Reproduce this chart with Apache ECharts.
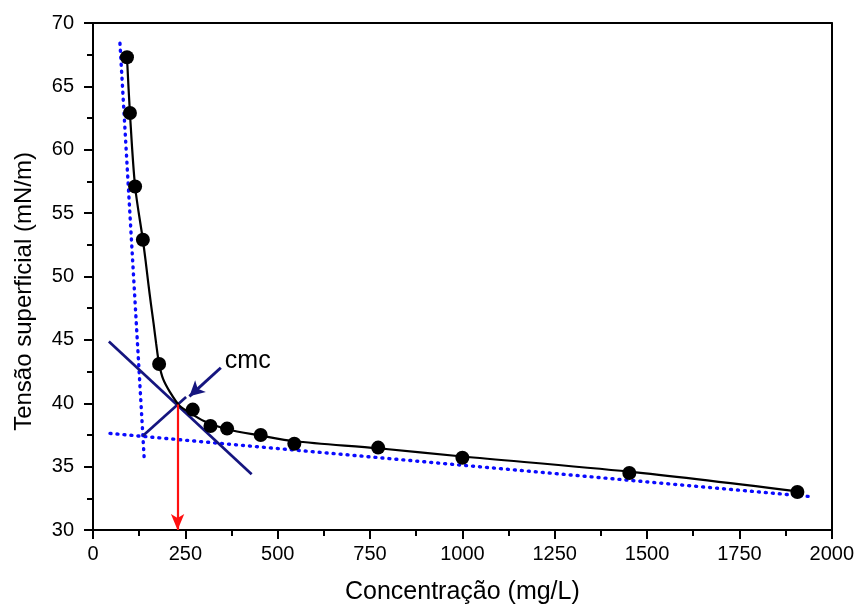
<!DOCTYPE html>
<html>
<head>
<meta charset="utf-8">
<script src="https://cdn.jsdelivr.net/npm/echarts@6/dist/echarts.min.js"></script>
<style>
  html, body { margin: 0; padding: 0; background: #ffffff; }
  #chart { width: 857px; height: 610px; }
</style>
</head>
<body>
<div id="chart"></div>
<script>
// Measured surface tension vs. surfactant concentration
const concentration = [92, 100, 114, 135, 179, 270, 318, 363, 454, 545, 772, 1000, 1452, 1907];
const tension = [67.3, 62.9, 57.1, 52.9, 43.1, 39.5, 38.2, 38.0, 37.5, 36.8, 36.5, 35.7, 34.5, 33.0];

// Fitted curve through the measurements
const fitX = [92, 100, 114, 135, 143, 150, 157, 164, 171, 179, 190, 208, 233, 262, 300, 363, 454, 545, 772, 1000, 1452, 1907];
const fitY = [67.3, 62.9, 57.1, 52.9, 51.1, 49.4, 47.8, 46.3, 44.7, 43.1, 41.9, 40.9, 39.85, 39.25, 38.6, 37.95, 37.45, 37.0, 36.45, 35.8, 34.6, 33.05];

// Linear trends of the two regimes (dotted)
const steepTrendX = [73, 139];
const steepTrendY = [68.4, 35.45];
const flatTrendX = [46, 1936];
const flatTrendY = [37.62, 32.65];

// Construction lines meeting at the cmc
const crossAX = [43, 429.5];
const crossAY = [44.88, 34.4];
const crossBX = [134.5, 252];
const crossBY = [37.41, 40.5];

// cmc point and its annotation
const cmcValue = [229, 39.9];
const cmcAxisValue = 30;
const cmcPointerFrom = [346, 42.8];
const cmcPointerTo = [261, 40.55];
const cmcLabelAt = [357, 43.3];
const cmcLabel = 'cmc';

// Axes
const xMin = 0, xMax = 2000, xStep = 250;
const yMin = 30, yMax = 70, yStep = 5;
const xTitle = 'Concentração (mg/L)';
const yTitle = 'Tensão superficial (mN/m)';

const zip = (xs, ys) => xs.map((x, i) => [x, ys[i]]);

const FONT = "'Liberation Sans', Arial, sans-serif";
const NAVY = '#15157f';
const BLUE = '#0a0aff';
const INK = '#000000';

const chart = echarts.init(document.getElementById('chart'), null, { renderer: 'canvas' });

const axisCommon = {
  axisLine: { show: true, onZero: false, lineStyle: { color: INK, width: 2 } },
  splitLine: { show: false }
};

chart.setOption({
  animation: false,
  backgroundColor: '#ffffff',
  grid: { left: 93, right: 25, top: 23, bottom: 78, show: false },
  xAxis: [
    Object.assign({}, axisCommon, {
      type: 'value', min: xMin, max: xMax, interval: xStep, position: 'bottom',
      name: xTitle, nameLocation: 'middle', nameGap: 50,
      nameTextStyle: { fontFamily: FONT, fontSize: 25, color: INK },
      axisTick: { show: true, inside: false, length: 9, lineStyle: { color: INK, width: 2 } },
      minorTick: { show: true, splitNumber: 2, length: 6, lineStyle: { color: INK, width: 2 } },
      axisLabel: { fontFamily: FONT, fontSize: 20, color: INK, margin: 14, formatter: v => String(v) }
    }),
    Object.assign({}, axisCommon, {
      type: 'value', min: xMin, max: xMax, position: 'top',
      axisTick: { show: false }, axisLabel: { show: false }
    })
  ],
  yAxis: [
    Object.assign({}, axisCommon, {
      type: 'value', min: yMin, max: yMax, interval: yStep, position: 'left',
      name: yTitle, nameLocation: 'middle', nameGap: 57, nameRotate: 90,
      nameTextStyle: { fontFamily: FONT, fontSize: 24, color: INK, padding: [0, 30, 0, 0] },
      axisTick: { show: true, inside: false, length: 9, lineStyle: { color: INK, width: 2 } },
      minorTick: { show: true, splitNumber: 2, length: 6, lineStyle: { color: INK, width: 2 } },
      axisLabel: { fontFamily: FONT, fontSize: 20, color: INK, margin: 19 }
    }),
    Object.assign({}, axisCommon, {
      type: 'value', min: yMin, max: yMax, position: 'right',
      axisTick: { show: false }, axisLabel: { show: false }
    })
  ],
  series: [
    {
      name: 'steepTrend', type: 'line', data: zip(steepTrendX, steepTrendY),
      symbol: 'none', z: 2,
      lineStyle: { color: BLUE, width: 3.4, type: [1, 6], cap: 'round' }
    },
    {
      name: 'flatTrend', type: 'line', data: zip(flatTrendX, flatTrendY),
      symbol: 'none', z: 2,
      lineStyle: { color: BLUE, width: 3.4, type: [1, 6], cap: 'round' }
    },
    {
      name: 'crossA', type: 'line', data: zip(crossAX, crossAY),
      symbol: 'none', z: 3,
      lineStyle: { color: NAVY, width: 2.7 }
    },
    {
      name: 'crossB', type: 'line', data: zip(crossBX, crossBY),
      symbol: 'none', z: 3,
      lineStyle: { color: NAVY, width: 2.7 }
    },
    {
      name: 'fit', type: 'line', data: zip(fitX, fitY),
      symbol: 'none', smooth: 0.3, z: 4,
      lineStyle: { color: INK, width: 2.2 }
    },
    {
      name: 'measured', type: 'scatter', data: zip(concentration, tension),
      symbol: 'circle', symbolSize: 14, z: 5,
      itemStyle: { color: INK, opacity: 1 }
    },
    {
      name: 'annotations', type: 'scatter',
      data: [{ value: cmcLabelAt, label: { show: true, formatter: cmcLabel } }],
      symbolSize: 0, z: 6,
      itemStyle: { opacity: 1 },
      label: { position: 'right', distance: 0, fontFamily: FONT, fontSize: 25, color: INK },
      markLine: {
        silent: true, animation: false,
        label: { show: false },
        data: [
          [
            { coord: cmcValue, symbol: 'none', lineStyle: { color: '#ff1010', width: 2.2, type: 'solid' } },
            { coord: [cmcValue[0], cmcAxisValue], symbol: 'arrow', symbolSize: [10, 16] }
          ],
          [
            { coord: cmcPointerFrom, symbol: 'none', lineStyle: { color: NAVY, width: 3, type: 'solid' } },
            { coord: cmcPointerTo, symbol: 'arrow', symbolSize: [12, 15] }
          ]
        ]
      }
    }
  ]
});
</script>
</body>
</html>
